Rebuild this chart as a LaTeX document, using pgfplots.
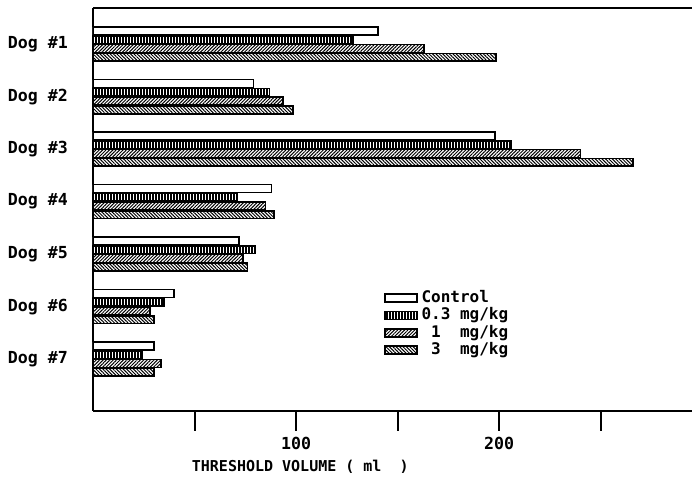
\documentclass[border=0pt]{standalone}
\usepackage{fontspec}
\setmainfont{DejaVu Sans Mono}
\usepackage{pgfplots}
\pgfplotsset{compat=1.18}
\usetikzlibrary{patterns.meta}
\begin{document}
\begin{tikzpicture}
\useasboundingbox (-46.5pt,-43pt) rectangle (299.5pt,205.5pt);
\begin{axis}[
    xbar,
    scale only axis,
    width=299.5pt, height=201.5pt,
    xmin=0, xmax=295, ymin=0.01, ymax=7.69,
    axis lines*=left,
    axis line style={line width=1pt, -},
    xtick={50,100,150,200,250},
    xticklabels={,100,,200,},
    tick align=outside,
    major tick length=10pt,
    xtick style={line width=1pt, black},
    ytick={1,...,7},
    yticklabels={Dog \#7,Dog \#6,Dog \#5,Dog \#4,Dog \#3,Dog \#2,Dog \#1},
    ytick style={draw=none},
    font=\fontsize{8.3}{10}\selectfont\bfseries,
    /pgf/number format/assume math mode=true,
    xticklabel style={anchor=center, yshift=-6pt},
    yticklabel style={xshift=1pt},
    xlabel={THRESHOLD VOLUME ( ml\ \ )},
    xlabel style={at={(axis description cs:0.346,-0.139)}, anchor=center,
        font=\fontsize{7.5}{9}\selectfont\bfseries},
    bar width=0.15,
    legend style={draw=none, fill=none, at={(axis description cs:0.485,0.31)},
        anchor=north west, inner sep=0pt, row sep=-2.9pt,
        font=\fontsize{8}{10}\selectfont\bfseries},
    legend cell align=left,
    legend image code/.code={\draw[#1, line width=0.8pt] (0pt,-2pt) rectangle (16pt,2pt);},
]
\addplot[draw=black, line width=0.8pt, fill=white, bar shift=0.25] coordinates {
    (140.4,7) (79,6) (198,5) (88,4) (72,3) (40,2) (30,1)
};
\addplot[draw=black, line width=0.8pt, pattern={Lines[angle=90, distance=1.5pt, line width=0.55pt]}, bar shift=0.083] coordinates {
    (128,7) (87,6) (206,5) (71,4) (80,3) (35,2) (24,1)
};
\addplot[draw=black, line width=0.8pt, pattern={Lines[angle=45, distance=1.2pt, line width=0.5pt]}, bar shift=-0.083] coordinates {
    (163,7) (93.5,6) (240,5) (85,4) (74,3) (28,2) (33.5,1)
};
\addplot[draw=black, line width=0.8pt, pattern={Lines[angle=-45, distance=1.2pt, line width=0.5pt]}, bar shift=-0.25] coordinates {
    (198.5,7) (98.5,6) (266,5) (89,4) (76,3) (30,2) (30,1)
};
\legend{Control,0.3 mg/kg,\ 1\ \ mg/kg,\ 3\ \ mg/kg}
\draw[line width=1pt] (rel axis cs:0,1) -- (rel axis cs:1,1);
\end{axis}
\end{tikzpicture}
\end{document}
